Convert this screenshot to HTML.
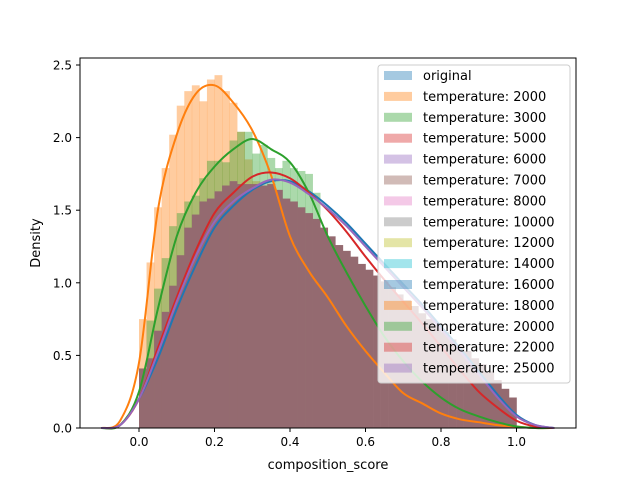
<!DOCTYPE html>
<html><head><meta charset="utf-8"><style>
body{margin:0;background:#fff;}
svg text{font-family:"DejaVu Sans","Liberation Sans",sans-serif;}
</style></head><body>
<svg id="chart" width="640" height="480" xmlns="http://www.w3.org/2000/svg">
<g id="hists"></g>
<g id="lines"></g>
<rect x="80" y="58" width="496" height="370" fill="none" stroke="#000" stroke-width="1"/>
<g id="xticks"></g>
<g id="yticks"></g>
<text x="328" y="469" font-size="13" text-anchor="middle">composition_score</text>
<text x="40" y="243" font-size="13" text-anchor="middle" transform="rotate(-90 40 243)">Density</text>
<g id="legend"></g>
</svg>
<script>
const binStart = 0, binWidth = 0.02;
const orangeHist = [0.75,1.14,1.52,1.79,2.02,2.22,2.32,2.36,2.25,2.40,2.43,2.32,2.24,2.04,1.85,1.70];
const greenHist = [0.41,0.74,0.96,1.17,1.39,1.48,1.56,1.60,1.72,1.84,1.84,1.83,1.98,2.04,2.04,1.89,1.95,1.86,1.79,1.84,1.79,1.77,1.75,1.62];
const baseHist = [0.41,0.48,0.67,0.80,0.98,1.19,1.38,1.47,1.56,1.58,1.63,1.67,1.70,1.68,1.68,1.68,1.67,1.68,1.64,1.58,1.56,1.52,1.48,1.44,1.38,1.32,1.26,1.22,1.18,1.13,1.09,1.05,1.01,0.97,0.92,0.88,0.84,0.79,0.75,0.71,0.66,0.61,0.57,0.53,0.48,0.44,0.39,0.33,0.27,0.21];
const kdeX = [-0.1,-0.05,0,0.05,0.1,0.15,0.2,0.25,0.3,0.35,0.4,0.45,0.5,0.55,0.6,0.65,0.7,0.75,0.8,0.85,0.9,0.95,1.0,1.05,1.1];
const kdeOrange = [0,0.05,0.45,1.5,2.02,2.3,2.36,2.24,2.05,1.74,1.32,1.08,0.9,0.70,0.53,0.38,0.24,0.17,0.10,0.06,0.04,0.02,0.01,0,0];
const kdeGreen = [0,0.02,0.25,0.82,1.32,1.62,1.80,1.92,1.99,1.92,1.83,1.62,1.32,1.07,0.84,0.63,0.46,0.32,0.21,0.13,0.08,0.04,0.01,0,0];
const kdeBlue = [0,0.02,0.2,0.48,0.82,1.12,1.38,1.53,1.64,1.70,1.70,1.63,1.53,1.41,1.27,1.13,0.99,0.85,0.70,0.55,0.39,0.23,0.09,0.02,0];
const kdeRed = [0,0.02,0.2,0.55,0.9,1.22,1.48,1.62,1.73,1.76,1.72,1.62,1.50,1.35,1.18,1.02,0.87,0.72,0.56,0.40,0.25,0.14,0.05,0.01,0];
const kdePurple = [0,0.02,0.2,0.52,0.87,1.18,1.42,1.56,1.65,1.71,1.69,1.61,1.51,1.39,1.25,1.11,0.97,0.83,0.68,0.53,0.37,0.21,0.08,0.02,0];
const legendLabels = ["original","temperature: 2000","temperature: 3000","temperature: 5000","temperature: 6000","temperature: 7000","temperature: 8000","temperature: 10000","temperature: 12000","temperature: 14000","temperature: 16000","temperature: 18000","temperature: 20000","temperature: 22000","temperature: 25000"];
const xTicks = [0.0,0.2,0.4,0.6,0.8,1.0];
const yTicks = [0.0,0.5,1.0,1.5,2.0,2.5];

const NS="http://www.w3.org/2000/svg";
const xs = v => 139 + v*377.5;
const ys = v => 428 - v*145.2;
function mk(tag, attrs, parent){const e=document.createElementNS(NS,tag);for(const k in attrs)e.setAttribute(k,attrs[k]);parent.appendChild(e);return e;}
const H=document.getElementById('hists'), L=document.getElementById('lines');
function hist(arr,color,op,name){
  arr.forEach((v,i)=>{
    const x0=xs(binStart+i*binWidth), x1=xs(binStart+(i+1)*binWidth);
    const r=mk('rect',{x:x0,y:ys(v),width:x1-x0+0.3,height:ys(0)-ys(v),fill:color,'fill-opacity':op},H);
    
    
  });
}
hist(orangeHist,'#ff7f0e',0.4,'hist-2000');
hist(greenHist,'#2ca02c',0.4,'hist-3000');
hist(baseHist,'#946a70',1,'hist-overlap');
function path(ys_,color,name){
  const p=kdeX.map((x,i)=>[xs(x),ys(ys_[i])]);
  let d='M'+p[0][0]+','+p[0][1];
  for(let i=0;i<p.length-1;i++){
    const p0=p[Math.max(0,i-1)],p1=p[i],p2=p[i+1],p3=p[Math.min(p.length-1,i+2)];
    const c1=[p1[0]+(p2[0]-p0[0])/6,p1[1]+(p2[1]-p0[1])/6], c2=[p2[0]-(p3[0]-p1[0])/6,p2[1]-(p3[1]-p1[1])/6];
    d+=` C${c1[0]},${c1[1]} ${c2[0]},${c2[1]} ${p2[0]},${p2[1]}`;
  }
  const e=mk('path',{d:d,fill:'none',stroke:color,'stroke-width':2},L);
  
  
}
path(kdeBlue,'#1f77b4','kde-original');
path(kdeOrange,'#ff7f0e','kde-2000');
path(kdeGreen,'#2ca02c','kde-3000');
path(kdeRed,'#d62728','kde-5000');
path(kdePurple,'#9467bd','kde-25000');
const XT=document.getElementById('xticks');
xTicks.forEach(t=>{
  const l=mk('line',{x1:xs(t),x2:xs(t),y1:428,y2:432,stroke:'#000'},XT);
  
  
  const tx=mk('text',{x:xs(t),y:446,'font-size':12,'text-anchor':'middle'},XT);
  tx.textContent=t.toFixed(1);
  
  
});
const YT=document.getElementById('yticks');
yTicks.forEach(t=>{
  const l=mk('line',{x1:76,x2:80,y1:ys(t),y2:ys(t),stroke:'#000'},YT);
  
  
  const tx=mk('text',{x:72,y:ys(t)+4.5,'font-size':12,'text-anchor':'end'},YT);
  tx.textContent=t.toFixed(1);
  
  
});
const LG=document.getElementById('legend');
const colors=['#1f77b4','#ff7f0e','#2ca02c','#d62728','#9467bd','#8c564b','#e377c2','#7f7f7f','#bcbd22','#17becf','#1f77b4','#ff7f0e','#2ca02c','#d62728','#9467bd'];
const box=mk('rect',{x:378,y:65,width:192,height:318,rx:3,fill:'#fff','fill-opacity':0.8,stroke:'#ccc'},LG);


legendLabels.forEach((s,i)=>{
  const y=75+i*20.9;
  const r=mk('rect',{x:384,y:y-4,width:28,height:9,fill:colors[i],'fill-opacity':0.4},LG);
  
  
  const t=mk('text',{x:423,y:y+5,'font-size':13},LG);
  t.textContent=s;
  
  
});
</script>
</body></html>
